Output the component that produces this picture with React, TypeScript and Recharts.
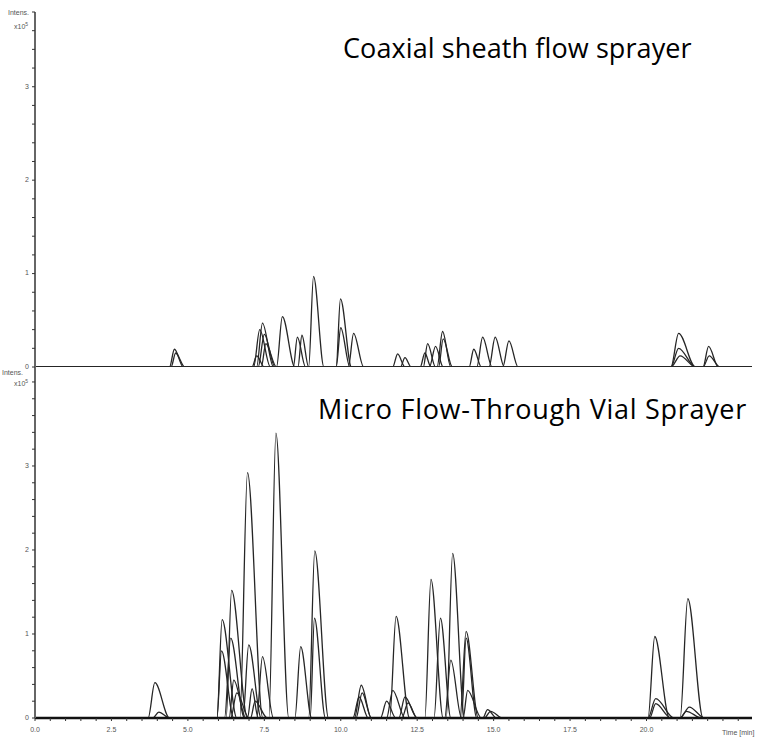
import React from 'react';
import { LineChart, Line, XAxis, YAxis } from 'recharts';

// ---------- labels ----------
const topTitle = 'Coaxial sheath flow sprayer';
const bottomTitle = 'Micro Flow-Through Vial Sprayer';
const xAxisTitle = 'Time [min]';
const yAxisTitle = 'Intens.';
const yAxisUnit = 'x10';
const yAxisUnitExp = '5';

const X_MAX = 23.45;
const xMajorTicks = [0, 2.5, 5, 7.5, 10, 12.5, 15, 17.5, 20];
const xTickLabels = ['0.0', '2.5', '5.0', '7.5', '10.0', '12.5', '15.0', '17.5', '20.0'];
const yMajorTicks = [0, 1, 2, 3];
const yTickLabels = ['0', '1', '2', '3'];
const topYMax = 3.8;
const bottomYMax = 4.19;

// ---------- peaks: [start, apex, height (x10^5), end] in minutes ----------
// Top panel (coaxial sheath flow)
const top1 = [[4.4, 4.56, 0.19, 4.85], [7.9, 8.09, 0.54, 8.5], [9.85, 9.99, 0.73, 10.35], [12.7, 12.84, 0.25, 13.1], [20.8, 21.05, 0.36, 21.6]];
const top2 = [[4.45, 4.6, 0.15, 4.9], [7.25, 7.44, 0.47, 7.8], [8.95, 9.11, 0.97, 9.45], [13.15, 13.33, 0.38, 13.6], [14.45, 14.64, 0.32, 14.95], [21.85, 22.03, 0.22, 22.35]];
const top3 = [[7.15, 7.35, 0.4, 7.7], [8.45, 8.58, 0.32, 8.85], [10.25, 10.42, 0.36, 10.75], [14.85, 15.05, 0.32, 15.35], [20.8, 21.05, 0.2, 21.6]];
const top4 = [[7.3, 7.5, 0.35, 7.85], [8.6, 8.73, 0.34, 8.95], [9.85, 10.0, 0.42, 10.3], [15.3, 15.5, 0.28, 15.8], [20.8, 21.1, 0.12, 21.6], [21.85, 22.05, 0.12, 22.4]];
const top5 = [[7.1, 7.25, 0.12, 7.5], [11.7, 11.86, 0.14, 12.1], [12.9, 13.1, 0.22, 13.35], [14.2, 14.35, 0.19, 14.6]];
const top6 = [[7.4, 7.55, 0.25, 7.9], [11.95, 12.1, 0.1, 12.3], [12.6, 12.75, 0.15, 12.95], [13.2, 13.35, 0.3, 13.65]];

// Bottom panel (micro flow-through vial)
const bot1 = [[3.7, 3.92, 0.42, 4.4], [5.95, 6.12, 1.17, 6.6], [7.65, 7.88, 3.39, 8.3], [12.75, 12.95, 1.65, 13.35], [20.05, 20.27, 0.97, 20.75]];
const bot2 = [[3.85, 4.05, 0.07, 4.4], [6.25, 6.43, 1.52, 6.95], [8.95, 9.15, 1.99, 9.6], [13.45, 13.66, 1.96, 14.05], [21.1, 21.35, 1.42, 21.85]];
const bot3 = [[6.7, 6.95, 2.92, 7.45], [11.6, 11.81, 1.21, 12.25], [13.9, 14.1, 1.03, 14.5], [20.05, 20.3, 0.23, 20.9], [21.1, 21.4, 0.13, 21.9]];
const bot4 = [[6.8, 6.99, 0.87, 7.4], [8.5, 8.69, 0.85, 9.05], [10.45, 10.67, 0.39, 11.0], [13.05, 13.26, 1.19, 13.6]];
const bot5 = [[5.95, 6.1, 0.8, 6.5], [7.25, 7.44, 0.73, 7.8], [9.0, 9.14, 1.19, 9.5], [13.4, 13.6, 0.69, 13.95], [20.1, 20.3, 0.17, 20.8], [21.1, 21.3, 0.08, 21.8]];
const bot6 = [[6.2, 6.4, 0.95, 6.85], [10.5, 10.7, 0.3, 11.0], [11.5, 11.7, 0.33, 12.1], [13.95, 14.1, 0.95, 14.45]];
const bot7 = [[6.35, 6.5, 0.45, 6.9], [6.95, 7.1, 0.35, 7.3], [11.3, 11.5, 0.2, 11.8], [11.9, 12.1, 0.25, 12.5], [14.0, 14.15, 0.33, 14.6], [14.65, 14.8, 0.1, 15.1]];
const bot8 = [[6.4, 6.6, 0.3, 7.0], [7.05, 7.2, 0.2, 7.6], [10.4, 10.6, 0.25, 10.9], [12.0, 12.2, 0.18, 12.5], [14.7, 14.9, 0.08, 15.3]];

const topTraces = [top1, top2, top3, top4, top5, top6];
const bottomTraces = [bot1, bot2, bot3, bot4, bot5, bot6, bot7, bot8];

type Pt = { t: number; v: number };
function toPoints(peaks: number[][]): Pt[] {
  const sorted = [...peaks].sort((a, b) => a[0] - b[0]);
  const pts: Pt[] = [{ t: 0, v: 0 }];
  sorted.forEach(([s, a, h, e]) => {
    pts.push({ t: s, v: 0 }, { t: a, v: h }, { t: e, v: 0 });
  });
  pts.push({ t: X_MAX, v: 0 });
  return pts;
}

const xAllTicks: number[] = [];
for (let i = 0; i <= 46; i++) xAllTicks.push(i * 0.5);
const minorY = (max: number) => {
  const r: number[] = [];
  for (let i = 0; i * 0.2 <= max + 1e-9; i++) r.push(Math.round(i * 2) / 10);
  return r;
};

const labelColor = '#555';
const fontSmall = '"Liberation Sans", Arial, sans-serif';

const YTick = (props: any) => {
  const { x, y, payload } = props;
  const idx = yMajorTicks.findIndex((m) => Math.abs(m - payload.value) < 1e-6);
  if (idx < 0) return <g />;
  return (
    <text x={x} y={y} textAnchor="end" dominantBaseline="middle" fontSize={7} fill={labelColor} fontFamily={fontSmall}>
      {yTickLabels[idx]}
    </text>
  );
};

const XTick = (props: any) => {
  const { x, y, payload } = props;
  const idx = xMajorTicks.findIndex((m) => Math.abs(m - payload.value) < 1e-6);
  if (idx < 0) return <g />;
  return (
    <text x={x} y={y} dy="0.71em" textAnchor="middle" fontSize={7} fill={labelColor} fontFamily={fontSmall}>
      {xTickLabels[idx]}
    </text>
  );
};

const traceColor = '#262626';

function Panel({ traces, yMax, showX, height }: { traces: number[][][]; yMax: number; showX: boolean; height: number }) {
  return (
    <LineChart width={759} height={height} margin={{ top: 12, right: 7, bottom: showX ? 0 : 3, left: 0 }}>
      <XAxis
        dataKey="t"
        type="number"
        domain={[0, X_MAX]}
        allowDataOverflow
        ticks={showX ? xAllTicks : []}
        interval={0}
        tick={showX ? <XTick /> : false}
        tickLine={showX ? { stroke: '#333', strokeWidth: 1 } : false}
        tickSize={3}
        tickMargin={6}
        height={showX ? 22 : 0}
        axisLine={{ stroke: '#111', strokeWidth: 2.5 }}
      />
      <XAxis
        xAxisId="frameTop"
        dataKey="t"
        type="number"
        domain={[0, X_MAX]}
        orientation="top"
        height={0}
        tick={false}
        tickLine={false}
        axisLine={{ stroke: '#444', strokeWidth: 1.5 }}
      />
      <YAxis
        type="number"
        domain={[0, yMax]}
        allowDataOverflow
        ticks={minorY(yMax)}
        interval={0}
        width={35}
        tick={<YTick />}
        tickLine={{ stroke: '#333', strokeWidth: 1 }}
        tickSize={3}
        tickMargin={3}
        axisLine={{ stroke: '#666', strokeWidth: 2 }}
      />
      <YAxis
        yAxisId="frameRight"
        type="number"
        domain={[0, yMax]}
        orientation="right"
        width={0}
        tick={false}
        tickLine={false}
        axisLine={{ stroke: '#666', strokeWidth: 1.2 }}
      />
      {traces.map((tr, i) => (
        <Line
          key={i}
          data={toPoints(tr)}
          dataKey="v"
          type="monotone"
          stroke={traceColor}
          strokeWidth={1.3}
          dot={false}
          activeDot={false}
          isAnimationActive={false}
        />
      ))}
    </LineChart>
  );
}

const smallLabel: React.CSSProperties = {
  position: 'absolute',
  fontSize: 7,
  color: labelColor,
  fontFamily: fontSmall,
  lineHeight: 1,
  whiteSpace: 'nowrap',
};

const titleStyle: React.CSSProperties = {
  position: 'absolute',
  fontSize: 27,
  lineHeight: 1,
  color: '#000',
  fontFamily: '"Open Sans", "Noto Sans", sans-serif',
  whiteSpace: 'nowrap',
};

export default function App() {
  return (
    <div style={{ position: 'absolute', left: 0, top: 0, width: 759, height: 743, background: '#fff', overflow: 'hidden' }}>
      <div style={{ position: 'absolute', left: 0, top: 354 }}>
        <Panel traces={bottomTraces} yMax={bottomYMax} showX={true} height={386} />
      </div>
      <div style={{ position: 'absolute', left: 0, top: 0 }}>
        <Panel traces={topTraces} yMax={topYMax} showX={false} height={370} />
      </div>
      <div style={{ ...titleStyle, left: 343, top: 34, letterSpacing: 0.1 }}>{topTitle}</div>
      <div style={{ ...titleStyle, left: 318, top: 395, letterSpacing: 0.7 }}>{bottomTitle}</div>
      <div style={{ ...smallLabel, left: 8, top: 9 }}>{yAxisTitle}</div>
      <div style={{ ...smallLabel, left: 14, top: 22 }}>{yAxisUnit}<sup style={{ fontSize: 5 }}>{yAxisUnitExp}</sup></div>
      <div style={{ ...smallLabel, left: 2, top: 369 }}>{yAxisTitle}</div>
      <div style={{ ...smallLabel, left: 14, top: 379 }}>{yAxisUnit}<sup style={{ fontSize: 5 }}>{yAxisUnitExp}</sup></div>
      <div style={{ ...smallLabel, left: 722, top: 729 }}>{xAxisTitle}</div>
    </div>
  );
}
